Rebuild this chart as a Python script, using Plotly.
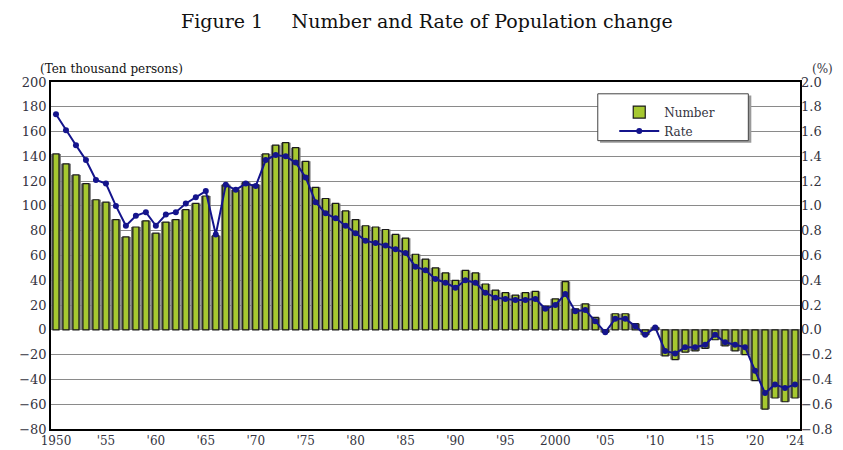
import plotly.graph_objects as go

years = list(range(1950, 2025))

number = [142, 134, 125, 118, 105, 103, 89, 75, 83, 88,
          78, 87, 89, 97, 102, 108, 76, 117, 113, 119,
          117, 142, 149, 151, 147, 136, 115, 106, 102, 96,
          89, 84, 83, 81, 77, 74, 61, 57, 50, 46,
          40, 48, 46, 37, 32, 30, 28, 30, 31, 19,
          25, 39, 17, 21, 10, -2, 13, 13, 5, -4,
          2, -21, -24, -18, -17, -15, -8, -13, -17, -20,
          -41, -64, -55, -58, -55]

rate = [1.74, 1.61, 1.49, 1.37, 1.21, 1.18, 1.00, 0.84, 0.92, 0.95,
        0.84, 0.93, 0.95, 1.02, 1.07, 1.12, 0.77, 1.17, 1.13, 1.18,
        1.16, 1.37, 1.41, 1.40, 1.35, 1.23, 1.03, 0.94, 0.90, 0.84,
        0.78, 0.72, 0.70, 0.68, 0.65, 0.62, 0.51, 0.48, 0.41, 0.38,
        0.34, 0.40, 0.38, 0.30, 0.26, 0.25, 0.24, 0.24, 0.25, 0.17,
        0.20, 0.29, 0.15, 0.16, 0.07, -0.02, 0.09, 0.09, 0.03, -0.04,
        0.02, -0.17, -0.19, -0.14, -0.14, -0.12, -0.04, -0.10, -0.12, -0.14,
        -0.33, -0.51, -0.44, -0.47, -0.44]

tick_years = [1950, 1955, 1960, 1965, 1970, 1975, 1980, 1985, 1990, 1995,
              2000, 2005, 2010, 2015, 2020, 2024]
tick_text = ["1950", "'55", "'60", "'65", "'70", "'75", "'80", "'85", "'90", "'95",
             "2000", "'05", "'10", "'15", "'20", "'24"]

FONT = "DejaVu Serif"
TXT = "#333340"

fig = go.Figure()

# shadow behind bars
fig.add_trace(go.Bar(x=years, y=number, width=0.98, marker=dict(color="#777777", line=dict(width=0)),
                     showlegend=False, hoverinfo="skip"))
fig.add_trace(go.Bar(x=years, y=number, name="Number", width=0.6,
                     marker=dict(color="#a6c830", line=dict(color="#1a1a1a", width=1.2))))
fig.add_trace(go.Scatter(x=years, y=rate, name="Rate", yaxis="y2", mode="lines+markers",
                         line=dict(color="#14148c", width=2),
                         marker=dict(color="#14148c", size=6, symbol="circle")))

fig.update_layout(
    width=835, height=442,
    margin=dict(l=43, r=43, t=74, b=21, autoexpand=False),
    paper_bgcolor="white", plot_bgcolor="white",
    barmode="overlay",
    font=dict(family=FONT, size=13, color=TXT),
    showlegend=True,
    legend=dict(x=0.752, y=0.955, xanchor="left", yanchor="top",
                bgcolor="rgba(0,0,0,0)", borderwidth=0,
                font=dict(family=FONT, size=12, color=TXT),
                itemwidth=40, tracegroupgap=4),
    xaxis=dict(range=[1949.5, 2024.5], tickmode="array", tickvals=tick_years, ticktext=tick_text,
               showgrid=False, ticks="", showline=True, linecolor="black", linewidth=1.5, mirror=True,
               tickfont=dict(family=FONT, size=12, color=TXT), automargin=False),
    yaxis=dict(range=[-80, 200], dtick=20, tick0=0, showgrid=True, gridcolor="#8a8a8a", gridwidth=1,
               zeroline=False, ticks="", showline=True, linecolor="black", linewidth=1.5, mirror=True,
               tickfont=dict(family=FONT, size=13, color=TXT), automargin=False),
    yaxis2=dict(range=[-0.8, 2.0], dtick=0.2, tick0=0, tickformat=".1f", overlaying="y", side="right",
                showgrid=False, zeroline=False, ticks="", showline=False,
                tickfont=dict(family=FONT, size=13, color=TXT), automargin=False),
    shapes=[
        dict(type="rect", xref="paper", yref="paper", x0=0.733, x1=0.935, y0=0.825, y1=0.961,
             fillcolor="#9a9a9a", line=dict(width=0), layer="above"),
        dict(type="rect", xref="paper", yref="paper", x0=0.730, x1=0.931, y0=0.831, y1=0.966,
             fillcolor="white", line=dict(color="#444444", width=1), layer="above"),
    ],
    annotations=[
        dict(text="Figure 1\u2002\u2002\u2002Number and Rate of Population change", xref="paper", yref="paper",
             x=0.502, y=1.175, xanchor="center", yanchor="middle", showarrow=False,
             font=dict(family=FONT, size=19, color="#111111")),
        dict(text="(Ten thousand persons)", xref="paper", yref="paper", x=-0.018, y=1.037,
             xanchor="left", yanchor="middle", showarrow=False,
             font=dict(family=FONT, size=12, color="#111111")),
        dict(text="(%)", xref="paper", yref="paper", x=1.03, y=1.037,
             xanchor="center", yanchor="middle", showarrow=False,
             font=dict(family=FONT, size=12, color=TXT)),
    ],
)

fig.write_html("out.html")
